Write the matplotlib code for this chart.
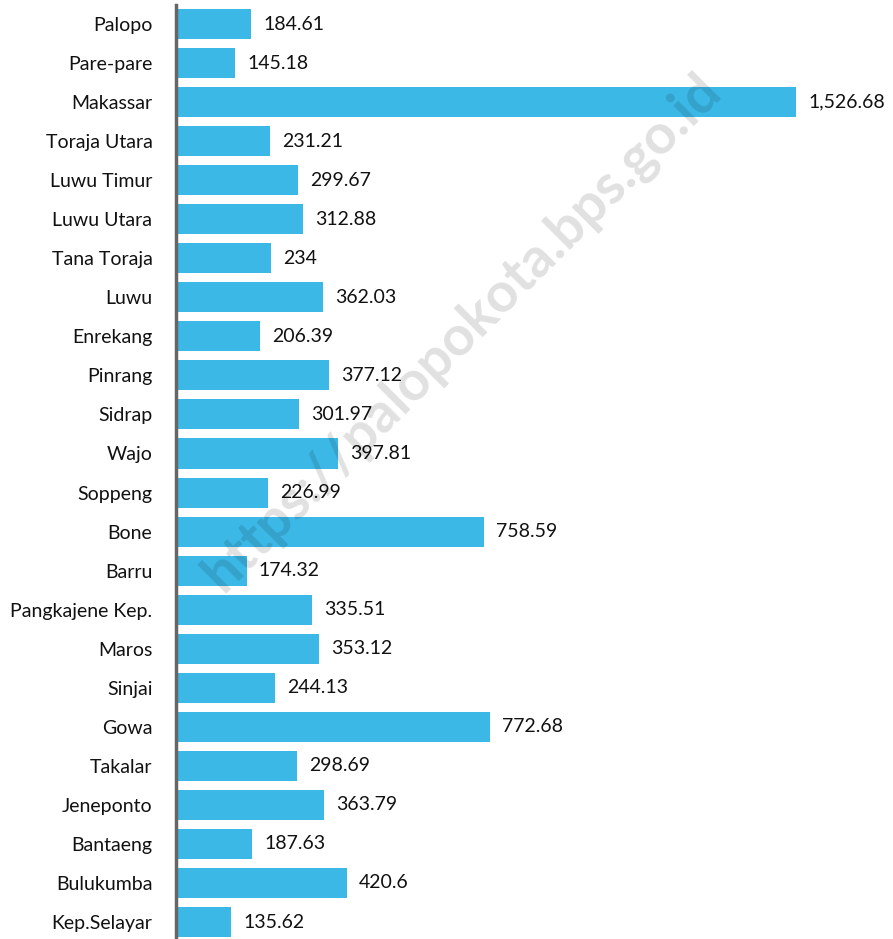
import matplotlib.pyplot as plt

# data
kabupaten = [
    "Palopo", "Pare-pare", "Makassar", "Toraja Utara", "Luwu Timur",
    "Luwu Utara", "Tana Toraja", "Luwu", "Enrekang", "Pinrang", "Sidrap",
    "Wajo", "Soppeng", "Bone", "Barru", "Pangkajene Kep.", "Maros",
    "Sinjai", "Gowa", "Takalar", "Jeneponto", "Bantaeng", "Bulukumba",
    "Kep.Selayar",
]
nilai = [
    184.61, 145.18, 1526.68, 231.21, 299.67, 312.88, 234, 362.03, 206.39,
    377.12, 301.97, 397.81, 226.99, 758.59, 174.32, 335.51, 353.12, 244.13,
    772.68, 298.69, 363.79, 187.63, 420.6, 135.62,
]
label_nilai = [
    "184.61", "145.18", "1,526.68", "231.21", "299.67", "312.88", "234",
    "362.03", "206.39", "377.12", "301.97", "397.81", "226.99", "758.59",
    "174.32", "335.51", "353.12", "244.13", "772.68", "298.69", "363.79",
    "187.63", "420.6", "135.62",
]

plt.rcParams["font.family"] = ["Lato", "DejaVu Sans"]

W, H = 893, 939
fig = plt.figure(figsize=(W / 100, H / 100), dpi=100)
ax = fig.add_axes([176 / W, 0, 1 - 176 / W, 1 - 5 / H])

pos = list(range(len(kabupaten)))
ax.barh(pos, nilai, height=0.77, color="#3cb8e6", zorder=2)

for i, (v, t) in enumerate(zip(nilai, label_nilai)):
    ax.text(v + 30, i, t, va="center", ha="left", fontsize=14,
            color="#111111", zorder=3)

ax.set_xlim(0, 717 / 0.406)
ax.set_ylim(23.435, -0.487)
ax.set_yticks(pos)
ax.set_yticklabels(kabupaten, fontsize=14, color="#111111")
ax.tick_params(axis="y", length=0, pad=17)
ax.set_xticks([])

for s in ["top", "right", "bottom"]:
    ax.spines[s].set_visible(False)
ax.spines["left"].set_color("#666666")
ax.spines["left"].set_linewidth(2.5)

# watermark semi transparan di atas batang
fig.text(462 / W, 1 - 332 / H, "https://palopokota.bps.go.id", rotation=45,
         ha="center", va="center", fontsize=40, fontweight="bold",
         color="#000000", alpha=0.12, zorder=10)

fig.savefig("out.png", dpi=100)
